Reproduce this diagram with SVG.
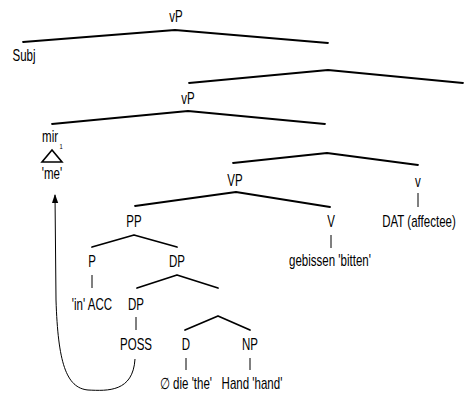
<svg xmlns="http://www.w3.org/2000/svg" width="464" height="394" viewBox="0 0 464 394">
<style>
text{font-family:"Liberation Sans",Arial,sans-serif;font-size:16px;fill:#000;text-anchor:middle;transform-box:fill-box;transform-origin:center;transform:scaleX(0.72)}
.sub{font-size:8px}
.br{fill:none;stroke:#000;stroke-width:1.8;stroke-linecap:round;stroke-linejoin:round}
.un{fill:none;stroke:#000;stroke-width:1}
.mv{fill:none;stroke:#000;stroke-width:1}
</style>
<defs>
<marker id="ah" viewBox="0 0 10 10" refX="9" refY="5" markerWidth="9" markerHeight="9" markerUnits="userSpaceOnUse" orient="auto">
<path d="M0,1.5 L10,5 L0,8.5 Z" fill="#000"/>
</marker>
</defs>
<g id="connectors">
<polyline class="br" points="23,42 175,30 328,43"/>
<polyline class="br" points="189,83 328,70 463,83"/>
<polyline class="br" points="52,124 188,111 325,124"/>
<polyline class="br" points="233,163 327,153 418,165"/>
<line class="un" x1="418" y1="193" x2="418" y2="207"/>
<polyline class="br" points="135,206 236,192 330,207"/>
<line class="un" x1="331" y1="235" x2="331" y2="248"/>
<polyline class="br" points="92,247 134,235 177,247"/>
<line class="un" x1="92" y1="275" x2="92" y2="288"/>
<polyline class="br" points="137,288 177,275 218,288"/>
<line class="un" x1="136" y1="317" x2="136" y2="330"/>
<polyline class="br" points="185,330 218,316 250,330"/>
<line class="un" x1="186" y1="358" x2="186" y2="370"/>
<line class="un" x1="250" y1="358" x2="250" y2="370"/>
<path class="mv" d="M135,359 C133,392 108,391 88,390 C66,388 58,362 56,300 L55,195" marker-end="url(#ah)"/>
</g>
<g id="vP1"><text x="176" y="22">vP</text></g>
<g id="Subj"><text x="24" y="61">Subj</text></g>
<g id="vP2"><text x="188" y="104">vP</text></g>
<g id="mir"><text x="50" y="142">mir</text><text class="sub" x="61" y="149">1</text>
<polygon points="52,150 42,162 62,162" fill="none" stroke="#000" stroke-width="1.6" stroke-linejoin="miter"/>
<text x="52" y="179">'me'</text></g>
<g id="VP"><text x="235" y="186">VP</text></g>
<g id="v"><text x="418" y="187">v</text></g>
<g id="DAT"><text x="419" y="227">DAT (affectee)</text></g>
<g id="PP"><text x="134" y="227">PP</text></g>
<g id="V"><text x="331" y="227">V</text></g>
<g id="gebissen"><text x="330" y="266">gebissen 'bitten'</text></g>
<g id="P"><text x="92" y="267">P</text></g>
<g id="DP1"><text x="177" y="267">DP</text></g>
<g id="in"><text x="92" y="310">'in' ACC</text></g>
<g id="DP2"><text x="136" y="310">DP</text></g>
<g id="POSS"><text x="136" y="350">POSS</text></g>
<g id="D"><text x="186" y="350">D</text></g>
<g id="NP"><text x="250" y="350">NP</text></g>
<g id="die"><text x="186" y="389">∅ die 'the'</text></g>
<g id="Hand"><text x="252" y="389">Hand 'hand'</text></g>
</svg>
